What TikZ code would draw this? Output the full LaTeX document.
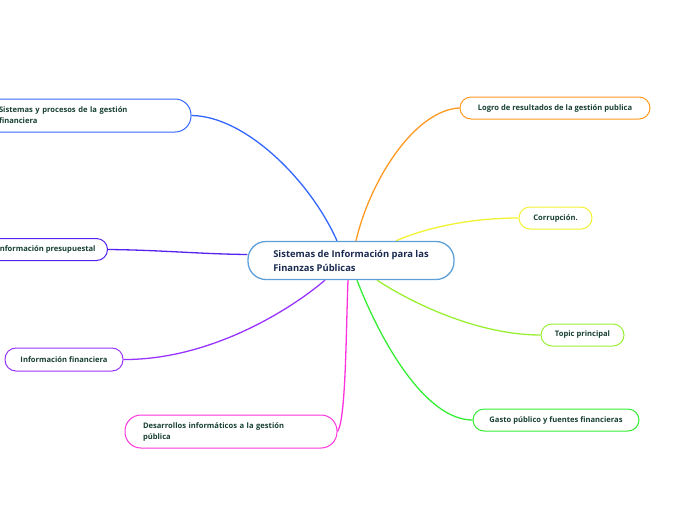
\documentclass[tikz,border=0pt]{standalone}
\usepackage{fontspec}
\setmainfont{Open Sans}
\usetikzlibrary{calc,backgrounds}
\definecolor{cBlue}{HTML}{3366FF}
\definecolor{cIndigo}{HTML}{5522EE}
\definecolor{cPurple}{HTML}{9933FF}
\definecolor{cMagenta}{HTML}{FF33DD}
\definecolor{cOrange}{HTML}{FF9922}
\definecolor{cYellow}{HTML}{F2F233}
\definecolor{cLime}{HTML}{99F033}
\definecolor{cGreen}{HTML}{33EE33}
\definecolor{cCentral}{HTML}{5DA0D8}
\definecolor{tDark}{HTML}{173F33}
\definecolor{tNavy}{HTML}{1A2A50}
\begin{document}
\begin{tikzpicture}[x=1pt,y=-1pt,
  central/.style={draw=cCentral, line width=1.3pt, fill=white, rounded corners=18pt,
    font=\fontsize{9.4}{14}\selectfont\bfseries, text=tNavy, align=left,
    minimum width=206pt, minimum height=38pt, inner sep=0pt},
  topic/.style={draw=#1, line width=1pt, fill=white, rounded corners=11pt,
    font=\fontsize{7.6}{11}\selectfont\bfseries, text=tDark,
    minimum height=22pt, inner sep=0pt},
  big/.style={rounded corners=16pt, minimum height=33pt},
  link/.style={draw=#1, line width=1.3pt}
]
\useasboundingbox (0,0) rectangle (696,520);

\node[central, xshift=2pt] (c) at (349,260.5) {Sistemas de Información para las\\Finanzas Públicas};

\node[topic=cBlue, big, minimum width=231pt, text width=153pt, align=left] (p) at (75.5,115.5)
  {Sistemas y procesos de la gestión\\financiera};
\node[topic=cIndigo, anchor=east, inner xsep=12pt] (i) at (108,249.5)
  {Información presupuestal};
\node[topic=cPurple, minimum width=118pt, minimum height=23pt] (f) at (64,359.5)
  {Información financiera};
\node[topic=cMagenta, big, minimum width=212pt, text width=176pt, align=left] (d) at (231,431.5)
  {Desarrollos informáticos a la gestión\\pública};
\node[topic=cOrange, minimum width=190pt] (l) at (555,108)
  {Logro de resultados de la gestión publica};
\node[topic=cYellow, minimum width=73pt] (k) at (555.5,218)
  {Corrupción.};
\node[topic=cLime, minimum width=83pt] (t) at (582.5,335)
  {Topic principal};
\node[topic=cGreen, minimum width=166pt] (g) at (556,420)
  {Gasto público y fuentes financieras};

\begin{scope}[on background layer]
\draw[link=cBlue] (p.east) .. controls (245,116) and (310,180) .. ($(c.north)+(-14,0)$);
\draw[link=cOrange] (l.west) .. controls (415,110) and (370,180) .. ($(c.north)+(5,0)$);
\draw[link=cYellow] (k.west) .. controls (470,218) and (425,228) .. ($(c.north)+(45,0)$);
\draw[link=cIndigo] (i.east) .. controls (160,250) and (200,254) .. ($(c.west)+(0,-6)$);
\draw[link=cPurple] (f.east) .. controls (210,360) and (290,310) .. ($(c.south)+(-26,0)$);
\draw[link=cMagenta] (d.east) .. controls (346,420) and (346,330) .. ($(c.south)+(-3,0)$);
\draw[link=cGreen] (g.west) .. controls (425,420) and (380,340) .. ($(c.south)+(6,0)$);
\draw[link=cLime] (t.west) .. controls (480,335) and (415,305) .. ($(c.south)+(26,0)$);
\end{scope}
\end{tikzpicture}
\end{document}
